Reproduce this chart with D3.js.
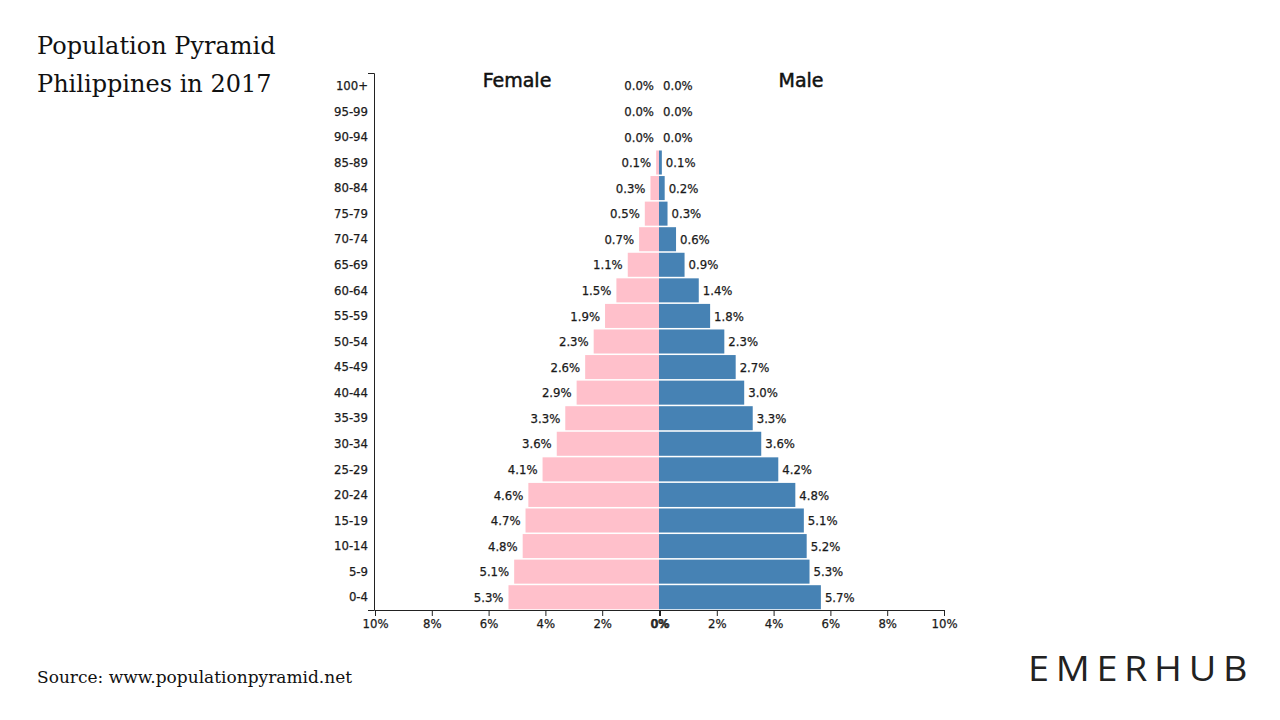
<!DOCTYPE html>
<html>
<head>
<meta charset="utf-8">
<script src="https://cdn.jsdelivr.net/npm/d3@7"></script>
<style>
  body { margin: 0; background: #fff; }
  svg { display: block; }
  .tick text { font-family: "DejaVu Sans Condensed", "DejaVu Sans", sans-serif; }
</style>
</head>
<body>
<svg id="chart" width="1280" height="720"></svg>
<script>
const ageGroups = ["100+","95-99","90-94","85-89","80-84","75-79","70-74","65-69","60-64","55-59","50-54","45-49","40-44","35-39","30-34","25-29","20-24","15-19","10-14","5-9","0-4"];
const femaleValues = [0.0,0.0,0.0,0.1,0.3,0.5,0.7,1.1,1.5,1.9,2.3,2.6,2.9,3.3,3.6,4.1,4.6,4.7,4.8,5.1,5.3];
const maleValues   = [0.0,0.0,0.0,0.1,0.2,0.3,0.6,0.9,1.4,1.8,2.3,2.7,3.0,3.3,3.6,4.2,4.8,5.1,5.2,5.3,5.7];
const xTickValues = [0,2,4,6,8,10];

const svg = d3.select("#chart");
const labelFont = '"DejaVu Sans Condensed", "DejaVu Sans", sans-serif';
const textColor = "#1a1a1a";

const centerX = 659, halfW = 284;
const plotTop = 73, plotBottom = 610;

const xLeft = d3.scaleLinear().domain([10, 0]).range([centerX - halfW, centerX]);
const xRight = d3.scaleLinear().domain([0, 10]).range([centerX, centerX + halfW]);
const y = d3.scaleBand().domain(ageGroups).range([plotTop, plotBottom]).paddingInner(0.06).paddingOuter(0.03);

// Title
const titleStyle = sel => sel.style("font-family", '"DejaVu Serif", serif').style("font-size", "24px").style("fill", "#111");
svg.append("text").attr("x", 37).attr("y", 54).call(titleStyle).text("Population Pyramid");
svg.append("text").attr("x", 37).attr("y", 92).call(titleStyle).text("Philippines in 2017");

// Bars
const rows = ageGroups.map((a, i) => ({ age: a, f: femaleValues[i], m: maleValues[i] }));
svg.append("g").selectAll("rect").data(rows).join("rect")
  .attr("x", d => xLeft(d.f)).attr("y", d => y(d.age))
  .attr("width", d => centerX - xLeft(d.f)).attr("height", y.bandwidth())
  .attr("fill", "#ffc0cb");
svg.append("g").selectAll("rect").data(rows).join("rect")
  .attr("x", centerX).attr("y", d => y(d.age))
  .attr("width", d => xRight(d.m) - centerX).attr("height", y.bandwidth())
  .attr("fill", "#4682b4");

// Value labels
const valStyle = sel => sel.style("font-family", labelFont).style("font-size", "13px")
  .style("fill", textColor).style("stroke", textColor).style("stroke-width", "0.25px");
svg.append("g").selectAll("text").data(rows).join("text")
  .attr("x", d => xLeft(d.f) - 5).attr("y", d => y(d.age) + y.bandwidth() / 2)
  .attr("dy", "0.36em").attr("text-anchor", "end").call(valStyle)
  .text(d => d.f.toFixed(1) + "%");
svg.append("g").selectAll("text").data(rows).join("text")
  .attr("x", d => xRight(d.m) + 4).attr("y", d => y(d.age) + y.bandwidth() / 2)
  .attr("dy", "0.36em").attr("text-anchor", "start").call(valStyle)
  .text(d => d.m.toFixed(1) + "%");

// Headers
const headStyle = sel => sel.attr("text-anchor", "middle")
  .style("font-family", '"DejaVu Sans", sans-serif').style("font-size", "19px")
  .style("fill", "#111").style("stroke", "#111").style("stroke-width", "0.5px");
svg.append("text").attr("x", xLeft(5)).attr("y", 87).call(headStyle).text("Female");
svg.append("text").attr("x", xRight(5)).attr("y", 87).call(headStyle).text("Male");

// Y axis
const yAxis = svg.append("g").attr("transform", `translate(${centerX - halfW - 1},0)`)
  .call(d3.axisLeft(y).tickSizeInner(0).tickSizeOuter(6).tickPadding(6));
yAxis.selectAll("text").style("font-size", "13px").style("fill", textColor)
  .style("stroke", textColor).style("stroke-width", "0.25px");
yAxis.select(".domain").attr("stroke", "#222");

// X axes
const fmt = d => d + "%";
const gxl = svg.append("g").attr("transform", `translate(0,${plotBottom})`)
  .call(d3.axisBottom(xLeft).tickValues(xTickValues).tickFormat(fmt).tickSize(6));
const gxr = svg.append("g").attr("transform", `translate(1,${plotBottom})`)
  .call(d3.axisBottom(xRight).tickValues(xTickValues).tickFormat(fmt).tickSize(6));
[gxl, gxr].forEach(g => {
  g.selectAll("text").style("font-size", "13px").style("fill", textColor)
    .style("stroke", textColor).style("stroke-width", "0.25px");
  g.selectAll("line, .domain").attr("stroke", "#222");
});

// Source
svg.append("text").attr("x", 37).attr("y", 683)
  .style("font-family", '"DejaVu Serif", serif').style("font-size", "17px").style("fill", "#111")
  .text("Source: www.populationpyramid.net");

// Logo
svg.append("text").attr("x", 1028).attr("y", 681)
  .attr("textLength", 226).attr("lengthAdjust", "spacingAndGlyphs")
  .style("font-family", '"Open Sans", sans-serif').style("font-weight", 400)
  .style("font-size", "34px").style("letter-spacing", "6px").style("fill", "#222")
  .text("EMERHUB");
</script>
</body>
</html>
